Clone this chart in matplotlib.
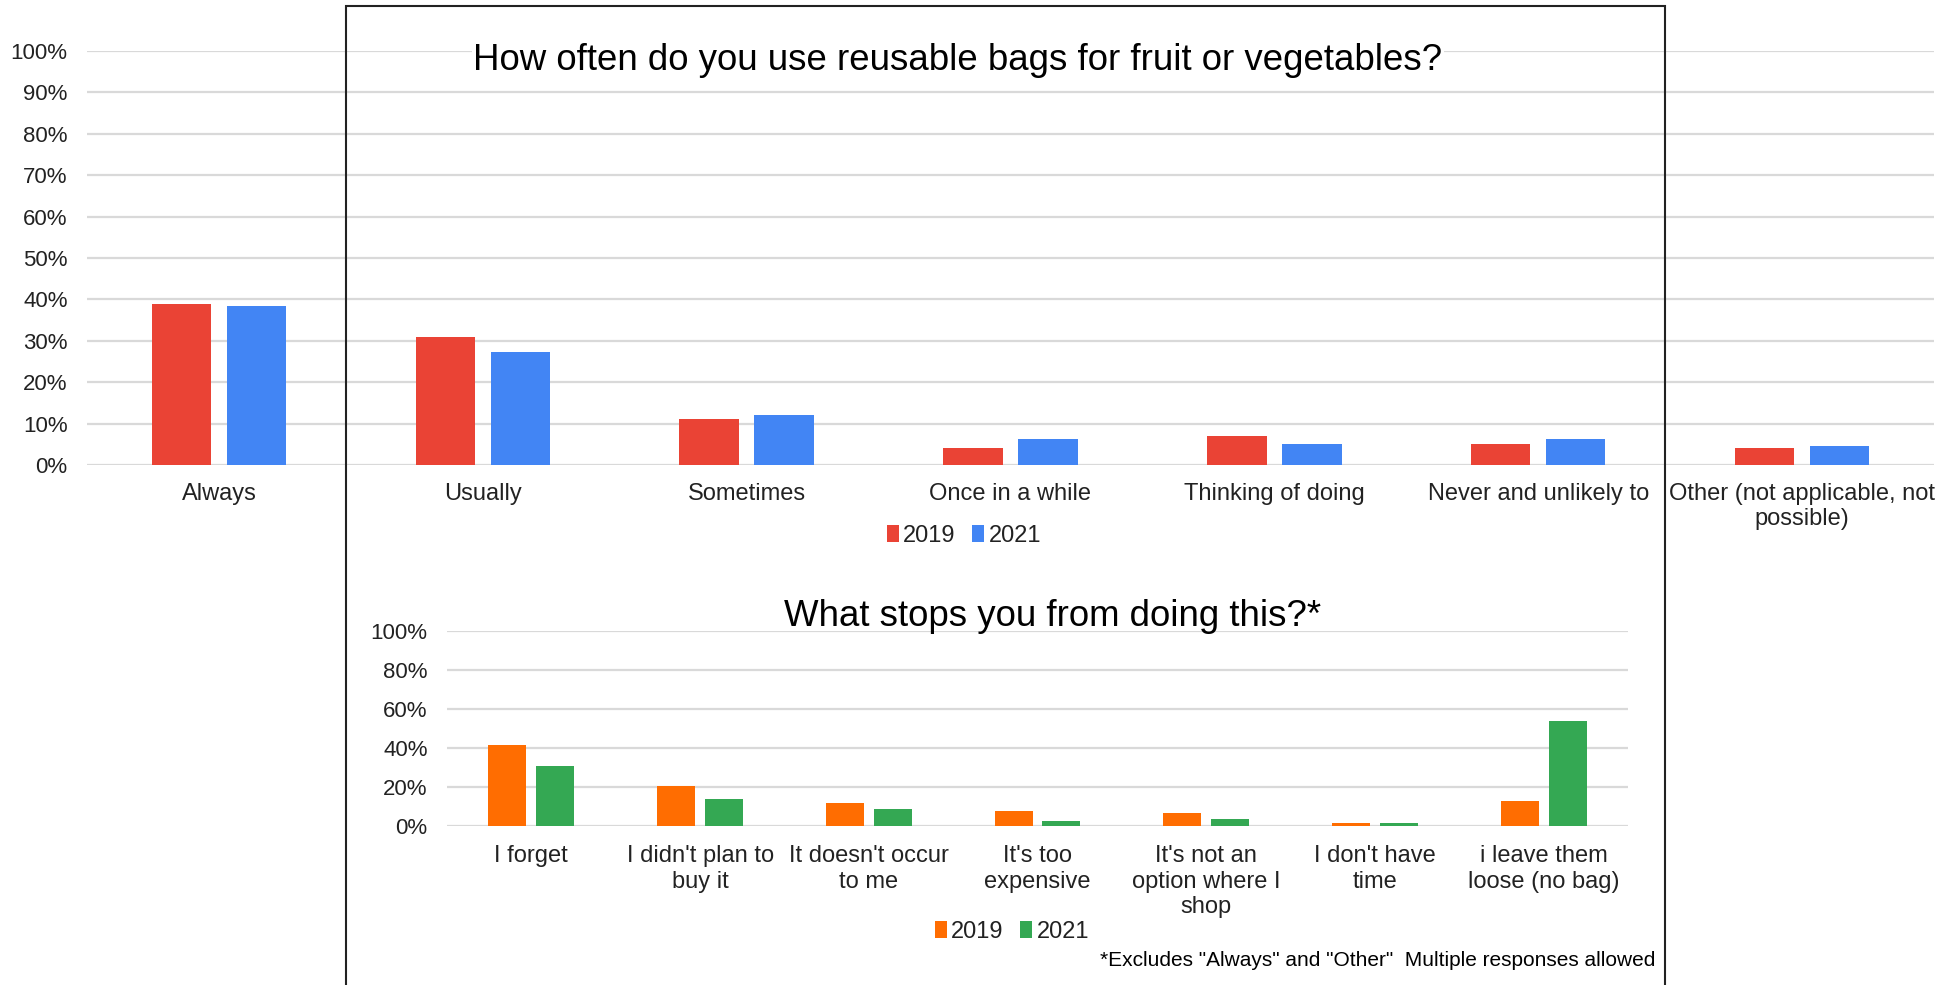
import matplotlib
matplotlib.use("Agg")
import matplotlib.pyplot as plt
from matplotlib.patches import Rectangle
import numpy as np

plt.rcParams['font.family'] = ['Liberation Sans', 'DejaVu Sans']

# ---- data ----
top_categories = ["Always", "Usually", "Sometimes", "Once in a while",
                  "Thinking of doing", "Never and unlikely to",
                  "Other (not applicable, not\npossible)"]
top_2019 = [38.9, 30.8, 11.1, 4.0, 7.0, 5.0, 4.0]
top_2021 = [38.4, 27.2, 12.1, 6.4, 5.0, 6.4, 4.6]
top_yticks = [0, 10, 20, 30, 40, 50, 60, 70, 80, 90, 100]

bot_categories = ["I forget", "I didn't plan to\nbuy it", "It doesn't occur\nto me",
                  "It's too\nexpensive", "It's not an\noption where I\nshop",
                  "I don't have\ntime", "i leave them\nloose (no bag)"]
bot_2019 = [41.7, 20.7, 11.6, 7.7, 6.7, 1.7, 12.7]
bot_2021 = [30.6, 13.7, 8.7, 2.7, 3.8, 1.5, 53.8]
bot_yticks = [0, 20, 40, 60, 80, 100]

series_labels = ["2019", "2021"]
top_title = "How often do you use reusable bags for fruit or vegetables?"
bot_title = "What stops you from doing this?*"
footnote = '*Excludes "Always" and "Other"  Multiple responses allowed'

RED, BLUE = "#EA4335", "#4285F4"
ORANGE, GREEN = "#FF6D01", "#34A853"
GRID = "#D9D9D9"
TXT = "#222222"

W, H = 1959, 985
fig = plt.figure(figsize=(W / 100, H / 100), dpi=100)

def frac_rect(x0, y_top, x1, y_bot):
    return [x0 / W, (H - y_bot) / H, (x1 - x0) / W, (y_bot - y_top) / H]

def style_axes(ax, yticks, n, ylabpad, xlabpad):
    ax.set_ylim(0, 100)
    ax.set_xlim(-0.5, n - 0.5)
    ax.set_yticks(yticks)
    ax.set_yticklabels([f"{v}%" for v in yticks])
    for s in ax.spines.values():
        s.set_visible(False)
    ax.grid(axis='y', color=GRID, linewidth=1.6)
    ax.set_axisbelow(True)
    ax.tick_params(axis='both', length=0, colors=TXT)
    ax.tick_params(axis='y', pad=ylabpad, labelsize=16)
    ax.tick_params(axis='x', pad=xlabpad, labelsize=17)
    ax.patch.set_alpha(0)

bw, off = 0.225, 0.142

# ---- top chart ----
ax1 = fig.add_axes(frac_rect(87, 51, 1934, 465))
x1 = np.arange(len(top_categories))
b1 = ax1.bar(x1 - off, top_2019, bw, color=RED, label=series_labels[0])
b2 = ax1.bar(x1 + off, top_2021, bw, color=BLUE, label=series_labels[1])
style_axes(ax1, top_yticks, len(top_categories), 14, 13)
ax1.set_xticks(x1)
ax1.set_xticklabels(top_categories, va='top', linespacing=1.2)
ax1.text(958 / W, (H - 60) / H, top_title, transform=fig.transFigure,
         ha='center', va='center', fontsize=26.4, color='black', zorder=10,
         bbox=dict(facecolor='white', edgecolor='none', pad=1))
fig.legend(handles=[b1, b2], labels=series_labels, loc='center',
           bbox_to_anchor=(964 / W, (H - 536) / H), ncol=2, frameon=False,
           fontsize=17, handlelength=0.5, handleheight=0.75, handletextpad=0.2,
           columnspacing=0.7, labelcolor=TXT)

# ---- box outline ----
fig.add_artist(Rectangle((346 / W, -0.02), (1665 - 346) / W, (H - 6) / H + 0.02,
                         transform=fig.transFigure, fill=False,
                         edgecolor='#222222', linewidth=1.5, zorder=20))

# ---- bottom chart ----
ax2 = fig.add_axes(frac_rect(447, 631, 1628, 826))
x2 = np.arange(len(bot_categories))
c1 = ax2.bar(x2 - off, bot_2019, bw, color=ORANGE, label=series_labels[0])
c2 = ax2.bar(x2 + off, bot_2021, bw, color=GREEN, label=series_labels[1])
style_axes(ax2, bot_yticks, len(bot_categories), 14, 14)
ax2.set_xticks(x2)
ax2.set_xticklabels(bot_categories, va='top', linespacing=1.2)
fig.text(1053 / W, (H - 616) / H, bot_title, ha='center', va='center',
         fontsize=26.4, color='black')
fig.legend(handles=[c1, c2], labels=series_labels, loc='center',
           bbox_to_anchor=(1012 / W, (H - 932) / H), ncol=2, frameon=False,
           fontsize=17, handlelength=0.5, handleheight=0.75, handletextpad=0.2,
           columnspacing=0.7, labelcolor=TXT)
fig.text(1655 / W, (H - 961) / H, footnote, ha='right', va='center',
         fontsize=15, color='black')

fig.savefig("out.png", dpi=100)
